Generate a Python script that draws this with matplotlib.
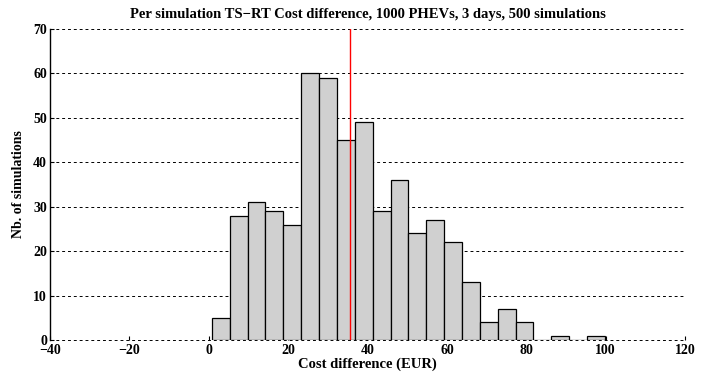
import matplotlib
matplotlib.use("Agg")
import matplotlib.pyplot as plt
import numpy as np

bin_start = 0.8
bin_width = 4.5
counts = [5, 28, 31, 29, 26, 60, 59, 45, 49, 29, 36, 24, 27, 22, 13, 4, 7, 4, 0, 1, 0, 1]
mean_value = 35.6
xticks = [-40, -20, 0, 20, 40, 60, 80, 100, 120]
yticks = [0, 10, 20, 30, 40, 50, 60, 70]

plt.rcParams['font.family'] = ['Liberation Serif', 'DejaVu Serif']
plt.rcParams['font.weight'] = 'bold'

fig = plt.figure(figsize=(7.22, 3.76), dpi=100)
ax = fig.add_axes([0.069, 0.0957, 0.88, 0.827])

edges = bin_start + bin_width * np.arange(len(counts))
ax.bar(edges, counts, width=bin_width, align='edge', color='#d0d0d0',
       edgecolor='black', linewidth=0.9, zorder=3)
ax.axvline(mean_value, color='red', linewidth=1.0, zorder=4)

ax.set_xlim(-40, 120)
ax.set_ylim(0, 70)
ax.set_xticks(xticks)
ax.set_yticks(yticks)
ax.set_xticklabels([str(t) if t >= 0 else '\u2212' + str(-t) for t in xticks], fontweight='bold', fontsize=10)
ax.set_yticklabels([str(t) for t in yticks], fontweight='bold', fontsize=10)
ax.tick_params(direction='in', length=3, width=0.8, pad=2)
ax.tick_params(axis='x', pad=3)

ax.yaxis.grid(True, linestyle=(0, (3, 3)), color='black', linewidth=0.7, zorder=0)
for gl in ax.get_ygridlines():
    gl.set_clip_on(False)
ax.set_axisbelow(True)
for s in ['top', 'right', 'bottom']:
    ax.spines[s].set_visible(False)
ax.spines['left'].set_linewidth(1.0)

ax.set_title('Per simulation TS\u2212RT Cost difference, 1000 PHEVs, 3 days, 500 simulations',
             fontsize=10.5, fontweight='bold', pad=8)
ax.set_xlabel('Cost difference (EUR)', fontsize=10.5, fontweight='bold', labelpad=0)
ax.set_ylabel('Nb. of simulations', fontsize=10, fontweight='bold', labelpad=6)

fig.savefig('out.png', dpi=100)
